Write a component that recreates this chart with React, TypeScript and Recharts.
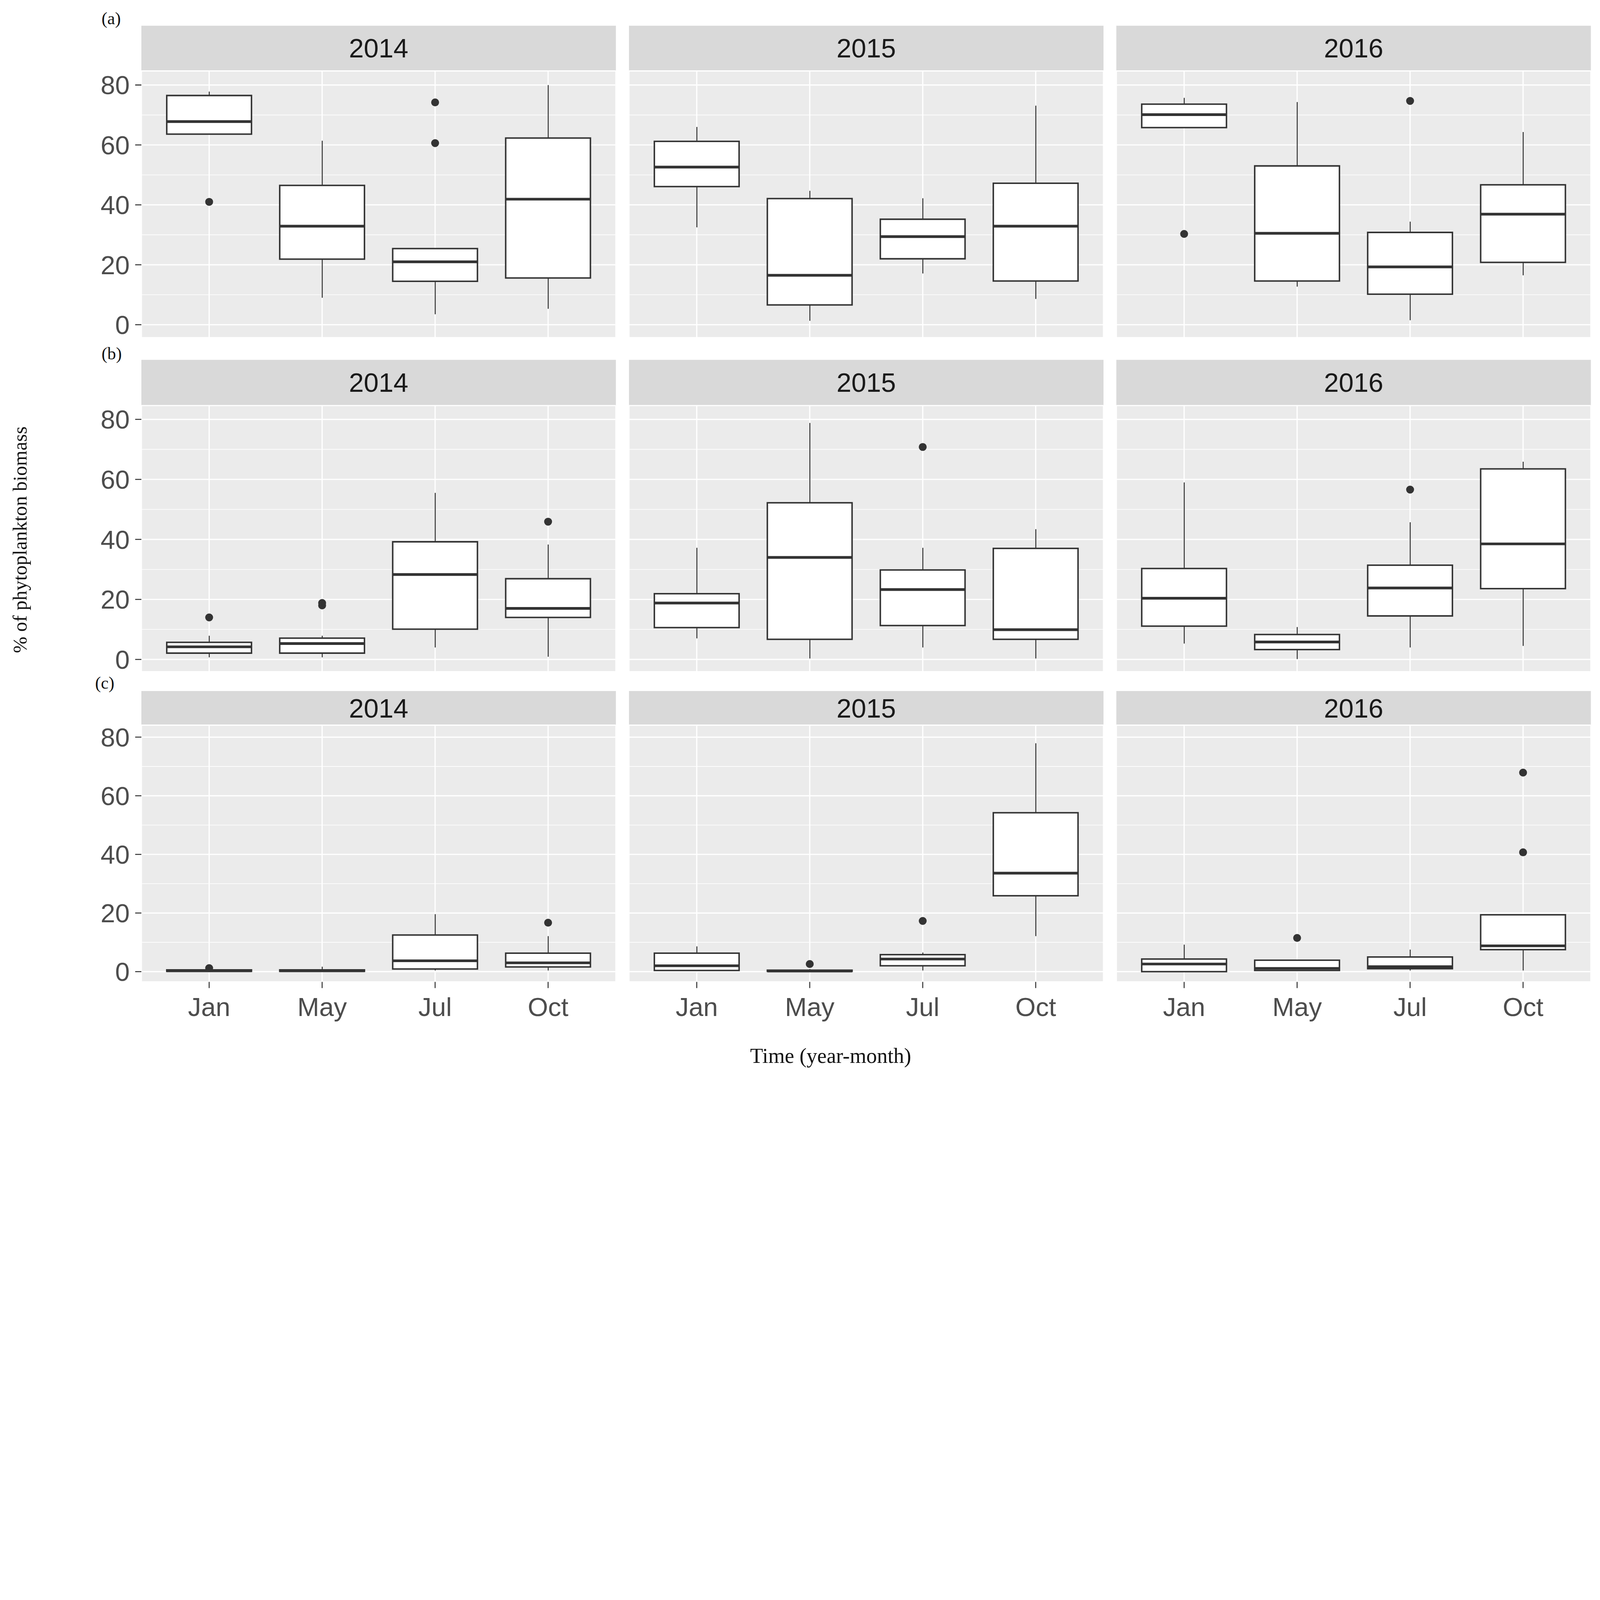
import React from 'react'
import { ComposedChart, Bar, Scatter, XAxis, YAxis, CartesianGrid } from 'recharts'

const months = ['Jan', 'May', 'Jul', 'Oct']
const years = ['2014', '2015', '2016']
const groupLabels = ['(a)', '(b)', '(c)']
const yTicks = [0, 20, 40, 60, 80]
const minorTicks = [10, 30, 50, 70]

// per month: [whisker low, q1, median, q3, whisker high]
const a2014 = [[63.6, 63.6, 67.8, 76.5, 77.8], [9.0, 21.9, 32.9, 46.5, 61.4], [3.5, 14.5, 21.0, 25.4, 25.4], [5.3, 15.6, 41.9, 62.3, 80.0]]
const a2015 = [[32.5, 46.1, 52.6, 61.2, 66.0], [1.3, 6.6, 16.5, 42.1, 44.7], [17.1, 22.0, 29.4, 35.2, 42.2], [8.6, 14.6, 32.9, 47.2, 73.1]]
const a2016 = [[65.8, 65.8, 70.1, 73.6, 75.7], [12.7, 14.6, 30.5, 53.0, 74.3], [1.5, 10.2, 19.3, 30.8, 34.4], [16.5, 20.8, 36.9, 46.7, 64.3]]
const b2014 = [[0.7, 2.1, 4.2, 5.7, 7.9], [0.7, 2.1, 5.3, 7.1, 7.9], [4.0, 10.1, 28.3, 39.2, 55.5], [0.9, 14.0, 17.0, 26.9, 38.3]]
const b2015 = [[7.0, 10.6, 18.8, 21.9, 37.2], [0.3, 6.7, 34.0, 52.2, 78.8], [4.0, 11.3, 23.3, 29.8, 37.2], [0.3, 6.7, 9.9, 37.0, 43.4]]
const b2016 = [[5.3, 11.1, 20.4, 30.3, 59.0], [0.1, 3.3, 5.8, 8.3, 10.8], [4.0, 14.5, 23.8, 31.4, 45.7], [4.5, 23.6, 38.5, 63.5, 65.9]]
const c2014 = [[0, 0.1, 0.3, 0.6, 1.0], [0, 0.1, 0.3, 0.6, 1.7], [0.4, 0.9, 3.7, 12.5, 19.6], [0.4, 1.6, 3.0, 6.3, 12.1]]
const c2015 = [[0.4, 0.4, 2.0, 6.3, 8.6], [0, 0.1, 0.2, 0.5, 0.9], [0.4, 2.0, 4.3, 5.8, 6.5], [12.1, 25.9, 33.6, 54.2, 77.9]]
const c2016 = [[0, 0, 2.6, 4.3, 9.2], [0.4, 0.4, 1.1, 3.9, 3.9], [0.4, 1.0, 1.7, 5.0, 7.5], [0.4, 7.5, 8.8, 19.4, 19.4]]

// outliers [month, value]
const a2014Out = [['Jan', 41.0], ['Jul', 74.2], ['Jul', 60.6]]
const a2015Out: [string, number][] = []
const a2016Out = [['Jan', 30.3], ['Jul', 74.7]]
const b2014Out = [['Jan', 14.0], ['May', 18.0], ['May', 18.8], ['Oct', 45.9]]
const b2015Out = [['Jul', 70.8]]
const b2016Out = [['Jul', 56.6]]
const c2014Out = [['Jan', 1.2], ['Oct', 16.7]]
const c2015Out = [['May', 2.6], ['Jul', 17.3]]
const c2016Out = [['May', 11.5], ['Oct', 67.9], ['Oct', 40.7]]

const stats = [[a2014, a2015, a2016], [b2014, b2015, b2016], [c2014, c2015, c2016]]
const outs = [[a2014Out, a2015Out, a2016Out], [b2014Out, b2015Out, b2016Out], [c2014Out, c2015Out, c2016Out]]

// layout (px)
const W = 6474
const H = 4354
const panelW = 1920
const colLeft = [572, 2545, 4517]
const rowGeom = [
  { stripTop: 104, panelTop: 287, panelBottom: 1366, domain: [-4.3, 84.7], labelY: 98 },
  { stripTop: 1456, panelTop: 1641, panelBottom: 2718, domain: [-4.1, 84.6], labelY: 1454 },
  { stripTop: 2796, panelTop: 2934, panelBottom: 3973, domain: [-3.5, 84.1], labelY: 2787 },
]
const yAxisW = 300
const xAxisH = 230
const vPad = 70
const unit = panelW / 4.2
const pad = unit * 0.1
const boxW = unit * 0.75
const sans = "'Liberation Sans', Arial, sans-serif"
const serif = "'Liberation Serif', 'Times New Roman', serif"
const ink = '#333333'

function Panel({ r, c }: { r: number; c: number }) {
  const g = rowGeom[r]
  const rows = months.map((m, i) => {
    const s = stats[r][c][i]
    return { month: m, lo: s[0], q1: s[1], med: s[2], q3: s[3], hi: s[4] }
  })
  const outliers = outs[r][c].map(([m, v]) => ({ month: m, value: v }))
  const showY = c === 0
  const showX = r === 2
  const panelH = g.panelBottom - g.panelTop
  const chartW = panelW + (showY ? yAxisW : 0)
  const chartH = panelH + vPad * 2 + (showX ? xAxisH : 0)
  const tickStyle = { fontFamily: sans, fontSize: 106, fill: '#4D4D4D' }

  return (
    <div style={{ position: 'absolute', left: colLeft[c] - (showY ? yAxisW : 0), top: g.panelTop - vPad }}>
      <ComposedChart width={chartW} height={chartH} data={rows} margin={{ top: vPad, right: 0, bottom: vPad, left: 0 }}>
        <XAxis
          dataKey="month"
          type="category"
          allowDuplicatedCategory={false}
          padding={{ left: pad, right: pad }}
          hide={!showX}
          height={xAxisH}
          axisLine={false}
          tickSize={25}
          tickMargin={38}
          tickLine={{ stroke: ink, strokeWidth: 4 }}
          tick={tickStyle}
          interval={0}
        />
        <XAxis xAxisId="wh" dataKey="month" padding={{ left: pad, right: pad }} hide />
        <XAxis xAxisId="box" dataKey="month" padding={{ left: pad, right: pad }} hide />
        <YAxis
          type="number"
          domain={g.domain}
          allowDataOverflow
          ticks={yTicks}
          interval={0}
          hide={!showY}
          width={yAxisW}
          axisLine={false}
          tickSize={25}
          tickMargin={22}
          tickLine={{ stroke: ink, strokeWidth: 4 }}
          tick={tickStyle}
        />
        <CartesianGrid fill="#EBEBEB" stroke="#FFFFFF" strokeWidth={5} />
        <CartesianGrid horizontalValues={minorTicks} vertical={false} stroke="#FFFFFF" strokeWidth={2.5} />
        <Bar xAxisId="wh" dataKey={(d: any) => [d.lo, d.hi]} barSize={4} fill={ink} isAnimationActive={false} />
        <Bar
          xAxisId="box"
          dataKey={(d: any) => [d.q1, d.q3]}
          barSize={boxW}
          fill="#FFFFFF"
          stroke={ink}
          strokeWidth={6}
          isAnimationActive={false}
        />
        <Scatter
          data={rows}
          dataKey="med"
          isAnimationActive={false}
          shape={(p: any) => (
            <line x1={p.cx - boxW / 2} x2={p.cx + boxW / 2} y1={p.cy} y2={p.cy} stroke={ink} strokeWidth={11} />
          )}
        />
        {outliers.length > 0 && (
          <Scatter
            data={outliers}
            dataKey="value"
            isAnimationActive={false}
            shape={(p: any) => <circle cx={p.cx} cy={p.cy} r={16} fill={ink} />}
          />
        )}
      </ComposedChart>
    </div>
  )
}

function fitScale() {
  if (typeof window === 'undefined') return 1
  const s = Math.min(window.innerWidth / W, window.innerHeight / H)
  return s > 0 && s < 1 ? s : 1
}

export default function App() {
  const [scale, setScale] = React.useState(fitScale)
  React.useEffect(() => {
    const onResize = () => setScale(fitScale())
    window.addEventListener('resize', onResize)
    return () => window.removeEventListener('resize', onResize)
  }, [])

  return (
    <div
      style={{
        position: 'absolute',
        left: 0,
        top: 0,
        width: W,
        height: H,
        background: '#FFFFFF',
        overflow: 'hidden',
        transform: `scale(${scale})`,
        transformOrigin: '0 0',
      }}
    >
      {rowGeom.map((g, r) =>
        years.map((y, c) => (
          <div
            key={`s${r}${c}`}
            style={{
              position: 'absolute',
              left: colLeft[c],
              top: g.stripTop,
              width: panelW,
              height: g.panelTop - g.stripTop,
              background: '#D9D9D9',
              display: 'flex',
              alignItems: 'center',
              justifyContent: 'center',
              fontFamily: sans,
              fontSize: 108,
              color: '#1A1A1A',
            }}
          >
            {y}
          </div>
        ))
      )}
      {rowGeom.map((_, r) => years.map((_, c) => <Panel key={`p${r}${c}`} r={r} c={c} />))}
      <svg width={W} height={H} style={{ position: 'absolute', left: 0, top: 0, pointerEvents: 'none' }}>
        {groupLabels.map((t, r) => (
          <text key={t} x={r === 2 ? 385 : 411} y={rowGeom[r].labelY} fontFamily={serif} fontSize={70} fill="#111">
            {t}
          </text>
        ))}
        <text
          x={80}
          y={2184}
          transform="rotate(-90 80 2184)"
          textAnchor="middle"
          dominantBaseline="central"
          fontFamily={serif}
          fontSize={80}
          fill="#111"
        >
          % of phytoplankton biomass
        </text>
        <text x={3361} y={4272} textAnchor="middle" dominantBaseline="central" fontFamily={serif} fontSize={86} fill="#111">
          Time (year-month)
        </text>
      </svg>
    </div>
  )
}
